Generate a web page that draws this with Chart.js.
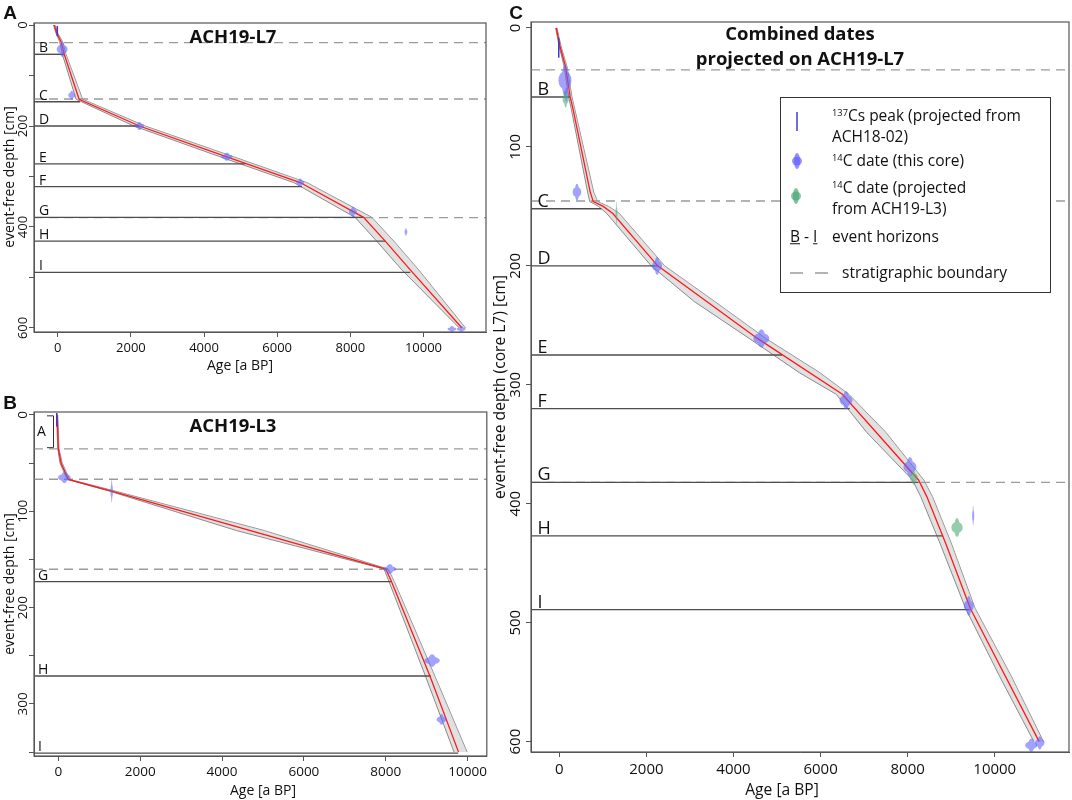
<!DOCTYPE html>
<html>
<head>
<meta charset="utf-8">
<title>Age-depth models ACH19-L7 / ACH19-L3</title>
<script src="https://cdn.jsdelivr.net/npm/chart.js@4.4.1/dist/chart.umd.min.js"></script>
<style>
  body { margin: 0; background: #fff; }
  #page { position: relative; width: 1072px; height: 800px; overflow: hidden; font-family: "Open Sans", sans-serif; color: #111; }
  canvas { position: absolute; }
  .lbl { position: absolute; white-space: nowrap; line-height: 1; }
  .lbl sup { font-size: 0.6em; vertical-align: 0.6em; line-height: 0; }
  #legend { position: absolute; left: 780px; top: 97px; width: 271px; height: 196px; border: 1.5px solid #333; box-sizing: border-box; background: #fff; }
</style>
</head>
<body>
<div id="page">
  <canvas id="chartA" width="490" height="380" style="left:0;top:0"></canvas>
  <canvas id="chartB" width="490" height="420" style="left:0;top:380px"></canvas>
  <canvas id="chartC" width="582" height="800" style="left:490px;top:0"></canvas>
  <div id="legend"></div>
  <svg width="1072" height="800" style="position:absolute;left:0;top:0;pointer-events:none">
    <line x1="797" y1="112" x2="797" y2="131" stroke="#4040d0" stroke-width="1.5"/>
    <ellipse cx="797" cy="161" rx="5" ry="4.5" fill="rgba(100,100,255,0.7)"/>
    <ellipse cx="797" cy="161" rx="3" ry="8" fill="rgba(100,100,255,0.7)"/>
    <ellipse cx="796" cy="196" rx="5" ry="4.5" fill="rgba(80,170,120,0.7)"/>
    <ellipse cx="796" cy="196" rx="3" ry="8" fill="rgba(80,170,120,0.7)"/>
    <line x1="790" y1="273" x2="803" y2="273" stroke="#9b9b9b" stroke-width="1.5"/>
    <line x1="815" y1="273" x2="828" y2="273" stroke="#9b9b9b" stroke-width="1.5"/>
  </svg>
</div>
<script>
// age axis (x) ticks shared by all panels
const ageTicks = [0, 2000, 4000, 6000, 8000, 10000];

// ---- Panel A: ACH19-L7
const aDepthTicks = [0, 100, 200, 300, 400, 500, 600];
const aDepthLabels = [0, 200, 400, 600];
const aModelDepth = [0, 16, 33, 59, 147, 200, 261, 312, 381, 428, 485, 600];
const aModelAge = [-100, -27, 90, 181, 583, 2233, 4624, 6629, 8361, 8955, 9639, 11053];
const aBandDepth = [0, 16, 33, 59, 147, 200, 261, 312, 381, 428, 485, 600];
const aBandYoung = [-115, -50, 50, 130, 500, 2080, 4440, 6450, 8130, 8720, 9410, 10980];
const aBandOld = [-80, 0, 130, 230, 680, 2390, 4810, 6810, 8590, 9190, 9870, 11150];
const aHorizons = ['B', 'C', 'D', 'E', 'F', 'G', 'H', 'I'];
const aHorizonDepth = [58, 152, 200, 275, 320, 381, 428, 490];
const aHorizonEnd = [181, 610, 2233, 5124, 6676, 8361, 8955, 9639];
const aBoundaries = [35, 146.5, 381.5];
const aC14Age = [120, 383, 2233, 4624, 6629, 8071, 9521, 10779, 11034];
const aC14Depth = [48, 139, 200, 261, 312, 370, 410, 602, 602];
const aC14AgeErr = [150, 95, 125, 160, 110, 110, 40, 120, 120];
const aC14DepthErr = [15, 9, 8, 8, 8, 10, 8, 6, 6];
const aCsAge = [-13];
const aCsDepth = [12];
const aCsDepthErr = [10];

// ---- Panel B: ACH19-L3
const bDepthTicks = [0, 50, 100, 150, 200, 250, 300, 350];
const bDepthLabels = [0, 100, 200, 300];
const bModelDepth = [0, 35, 50, 67, 79, 160, 173, 271, 350];
const bModelAge = [-30, 0, 66, 244, 1300, 8000, 8140, 9080, 9780];
const bBandDepth = [0, 35, 50, 67, 79, 120, 160, 173, 271, 350];
const bBandYoung = [-45, -15, 40, 215, 1240, 4350, 7960, 8080, 8970, 9670];
const bBandOld = [-15, 15, 95, 275, 1380, 5030, 8060, 8210, 9200, 9990];
const bHorizons = ['G', 'H', 'I'];
const bHorizonDepth = [173, 271, 351];
const bHorizonEnd = [8141, 9101, 9770];
const bBoundaries = [35.3, 66.8, 160.2];
const bC14Age = [147, 1304, 8100, 9133, 9363];
const bC14Depth = [65, 79, 160, 255, 316];
const bC14AgeErr = [155, 30, 160, 190, 120];
const bC14DepthErr = [6, 12, 5, 6.5, 5.5];
const bCsAge = [-39];
const bCsDepth = [5];
const bCsDepthErr = [7];

// ---- Panel C: combined dates projected on ACH19-L7
const cDepthTicks = [0, 100, 200, 300, 400, 500, 600];
const cDepthLabels = [0, 100, 200, 300, 400, 500, 600];
const cModelDepth = [0, 16, 33, 58, 69, 138, 146, 150, 156, 200, 261, 308, 380, 394, 433, 488, 600];
const cModelAge = [-70, 20, 146, 250, 320, 710, 780, 1010, 1230, 2260, 4550, 6500, 8250, 8440, 8870, 9440, 11020];
const cBandDepth = [0, 16, 33, 58, 69, 138, 146, 150, 156, 200, 230, 261, 290, 308, 340, 380, 394, 433, 488, 545, 600];
const cBandYoung = [-85, 0, 115, 215, 280, 650, 700, 900, 1090, 2110, 3100, 4360, 5520, 6360, 7060, 8110, 8300, 8740, 9330, 10110, 10900];
const cBandOld = [-55, 45, 180, 290, 360, 790, 880, 1130, 1380, 2420, 3570, 4740, 5990, 6650, 7500, 8370, 8570, 9000, 9550, 10380, 11120];
const cHorizons = ['B', 'C', 'D', 'E', 'F', 'G', 'H', 'I'];
const cHorizonDepth = [58, 152, 200, 275, 320, 382, 427, 489];
const cHorizonEnd = [250, 967, 2263, 5115, 6670, 8250, 8813, 9418];
const cBoundaries = [35.3, 145.5, 382];
const cC14Age = [130, 160, 405, 2246, 4640, 6584, 8053, 9504, 9403, 10838, 11034];
const cC14Depth = [44, 56, 138, 200, 261, 313, 369, 410, 486, 603, 601];
const cC14AgeErr = [150, 60, 100, 115, 185, 150, 150, 25, 115, 140, 110];
const cC14DepthErr = [13, 6, 7, 7.7, 7.7, 7.7, 8.4, 8.4, 8.4, 5.6, 5.6];
const cProjAge = [146, 1313, 8139, 9133];
const cProjDepth = [60, 156, 378, 420];
const cProjAgeErr = [70, 15, 90, 130];
const cProjDepthErr = [7, 10, 6, 8];
const cCsAge = [-13];
const cCsDepth = [17];
const cCsDepthErr = [8];

const BLUE = 'rgba(100,100,255,0.6)';
const GREEN = 'rgba(80,170,120,0.6)';

function drawBlobs(ctx, x, y, ages, depths, ageErr, depthErr, color) {
  ctx.fillStyle = color;
  ages.forEach((a, i) => {
    const cx = x.getPixelForValue(a), cy = y.getPixelForValue(depths[i]);
    const rx = Math.max(1, Math.abs(x.getPixelForValue(a + ageErr[i]) - cx));
    const ry = Math.max(1, Math.abs(y.getPixelForValue(depths[i] + depthErr[i]) - cy));
    ctx.beginPath();
    ctx.ellipse(cx, cy, rx, ry * 0.6, 0, 0, Math.PI * 2);
    ctx.closePath();
    ctx.moveTo(cx + rx * 0.5, cy);
    ctx.ellipse(cx, cy, rx * 0.5, ry, 0, 0, Math.PI * 2);
    ctx.closePath();
    ctx.fill('nonzero');
  });
}

function overlay(p) {
  return {
    id: 'overlay',
    afterDatasetsDraw(chart) {
      const {ctx, chartArea: a, scales: {x, y}} = chart;
      ctx.save();
      ctx.beginPath();
      ctx.rect(a.left, a.top, a.right - a.left, a.bottom - a.top);
      ctx.clip();
      drawBlobs(ctx, x, y, p.c14[0], p.c14[1], p.c14[2], p.c14[3], BLUE);
      if (p.proj) drawBlobs(ctx, x, y, p.proj[0], p.proj[1], p.proj[2], p.proj[3], GREEN);
      ctx.strokeStyle = '#3a3ad0';
      ctx.lineWidth = 1.5;
      p.cs[0].forEach((age, i) => {
        const px = x.getPixelForValue(age);
        ctx.beginPath();
        ctx.moveTo(px, y.getPixelForValue(p.cs[1][i] - p.cs[2][i]));
        ctx.lineTo(px, y.getPixelForValue(p.cs[1][i] + p.cs[2][i]));
        ctx.stroke();
      });
      ctx.restore();

      ctx.save();
      ctx.fillStyle = '#111';
      ctx.font = p.letterSize + 'px "Open Sans"';
      ctx.textBaseline = 'alphabetic';
      p.hLabels.forEach((t, i) => ctx.fillText(t, a.left + p.letterDx, y.getPixelForValue(p.hDepth[i]) - 2));
      if (p.bracket) {
        const [d0, d1, label] = p.bracket;
        const bx = a.left + 19.5, y0 = y.getPixelForValue(d0), y1 = y.getPixelForValue(d1);
        ctx.strokeStyle = '#333';
        ctx.lineWidth = 1;
        ctx.beginPath();
        ctx.moveTo(bx - 6.5, y0); ctx.lineTo(bx, y0); ctx.lineTo(bx, y1); ctx.lineTo(bx - 6.5, y1);
        ctx.stroke();
        ctx.textAlign = 'center';
        ctx.textBaseline = 'middle';
        ctx.fillText(label, a.left + 7.5, (y0 + y1) / 2);
      }
      ctx.strokeStyle = '#555';
      ctx.lineWidth = 1.2;
      ctx.strokeRect(a.left, a.top, a.right - a.left, a.bottom - a.top);

      ctx.font = p.tickSize + 'px "Open Sans"';
      ctx.textAlign = 'center';
      ctx.textBaseline = 'middle';
      p.yLabels.forEach(v => {
        ctx.save();
        ctx.translate(a.left - p.yLabelDx, y.getPixelForValue(v));
        ctx.rotate(-Math.PI / 2);
        ctx.fillText(String(v), 0, 0);
        ctx.restore();
      });
      ctx.restore();
    }
  };
}

function buildChart(id, p) {
  const pts = (ages, depths) => depths.map((d, i) => ({x: ages[i], y: d}));
  const datasets = [];
  datasets.push({data: pts(p.modelAge, p.modelDepth), borderColor: '#ff1a1a', borderWidth: 1.3, order: 0});
  p.hDepth.forEach((d, i) => datasets.push({data: [{x: p.xMin, y: d}, {x: p.hEnd[i], y: d}], borderColor: '#4d4d4d', borderWidth: 1.4, order: 1}));
  p.bounds.forEach(d => datasets.push({data: [{x: p.xMin, y: d}, {x: p.xMax, y: d}], borderColor: '#9b9b9b', borderWidth: 1.3, borderDash: [9, 6], order: 2}));
  datasets.push({data: pts(p.bandYoung, p.bandDepth), indexAxis: 'y', borderColor: '#8a8a8a', borderWidth: 1, fill: '+1', backgroundColor: 'rgba(200,200,200,0.55)', order: 3});
  datasets.push({data: pts(p.bandOld, p.bandDepth), indexAxis: 'y', borderColor: '#8a8a8a', borderWidth: 1, order: 3});
  datasets.forEach(ds => {
    ds.showLine = true;
    ds.pointRadius = 0;
    ds.tension = 0;
    if (ds.fill === undefined) ds.fill = false;
  });

  const gridOpts = {drawOnChartArea: false, drawTicks: true, tickLength: 5, color: '#555', lineWidth: 1};
  return new Chart(document.getElementById(id), {
    type: 'scatter',
    data: {datasets},
    options: {
      responsive: false,
      animation: false,
      events: [],
      layout: {padding: {top: p.padTop, right: p.padRight, left: 0, bottom: 0}},
      plugins: {legend: {display: false}, tooltip: {enabled: false}},
      scales: {
        x: {
          type: 'linear',
          position: 'bottom',
          bounds: 'data',
          min: p.xMin,
          max: p.xMax,
          afterBuildTicks: s => { s.ticks = ageTicks.map(v => ({value: v})); },
          afterFit: s => { s.height = p.xAxisH; },
          grid: gridOpts,
          border: {display: true, color: '#555', width: 1},
          ticks: {color: '#111', font: {family: 'Open Sans', size: p.tickSize}, padding: p.tickPad, maxRotation: 0, autoSkip: false, callback: v => String(v)}
        },
        y: {
          type: 'linear',
          position: 'left',
          reverse: true,
          bounds: 'data',
          min: p.yMin,
          max: p.yMax,
          afterBuildTicks: s => { s.ticks = p.yTicks.map(v => ({value: v})); },
          afterFit: s => { s.width = p.yAxisW; },
          grid: gridOpts,
          border: {display: true, color: '#555', width: 1},
          ticks: {color: 'rgba(0,0,0,0)', autoSkip: false, font: {size: p.tickSize}}
        }
      }
    },
    plugins: [overlay(p)]
  });
}

buildChart('chartA', {
  xMin: -650, xMax: 11710, yMin: -4, yMax: 608,
  yTicks: aDepthTicks, yLabels: aDepthLabels,
  modelAge: aModelAge, modelDepth: aModelDepth,
  bandDepth: aBandDepth, bandYoung: aBandYoung, bandOld: aBandOld,
  hLabels: aHorizons, hDepth: aHorizonDepth, hEnd: aHorizonEnd, bounds: aBoundaries,
  c14: [aC14Age, aC14Depth, aC14AgeErr, aC14DepthErr],
  cs: [aCsAge, aCsDepth, aCsDepthErr],
  padTop: 23, padRight: 4, xAxisH: 48, yAxisW: 34,
  tickSize: 13, tickPad: 3, yLabelDx: 10.5, letterSize: 14, letterDx: 5
});

buildChart('chartB', {
  xMin: -595, xMax: 10470, yMin: -3, yMax: 354,
  yTicks: bDepthTicks, yLabels: bDepthLabels,
  modelAge: bModelAge, modelDepth: bModelDepth,
  bandDepth: bBandDepth, bandYoung: bBandYoung, bandOld: bBandOld,
  hLabels: bHorizons, hDepth: bHorizonDepth, hEnd: bHorizonEnd, bounds: bBoundaries,
  c14: [bC14Age, bC14Depth, bC14AgeErr, bC14DepthErr],
  cs: [bCsAge, bCsDepth, bCsDepthErr],
  bracket: [1, 34, 'A'],
  padTop: 32, padRight: 3, xAxisH: 44, yAxisW: 34,
  tickSize: 13.5, tickPad: 3, yLabelDx: 11, letterSize: 14, letterDx: 4
});

buildChart('chartC', {
  xMin: -650, xMax: 11705, yMin: -5, yMax: 608.7,
  yTicks: cDepthTicks, yLabels: cDepthLabels,
  modelAge: cModelAge, modelDepth: cModelDepth,
  bandDepth: cBandDepth, bandYoung: cBandYoung, bandOld: cBandOld,
  hLabels: cHorizons, hDepth: cHorizonDepth, hEnd: cHorizonEnd, bounds: cBoundaries,
  c14: [cC14Age, cC14Depth, cC14AgeErr, cC14DepthErr],
  proj: [cProjAge, cProjDepth, cProjAgeErr, cProjDepthErr],
  cs: [cCsAge, cCsDepth, cCsDepthErr],
  padTop: 22, padRight: 3, xAxisH: 48, yAxisW: 41,
  tickSize: 15, tickPad: 4, yLabelDx: 15, letterSize: 18, letterDx: 6.5
});

// static texts: [html, centre x, centre y, size, bold, align, rotated, family]
const texts = [
  ['A', 10, 12, 19, true, 'c', false, 'Liberation Sans'],
  ['B', 10, 402, 19, true, 'c', false, 'Liberation Sans'],
  ['C', 516, 12, 19, true, 'c', false, 'Liberation Sans'],
  ['ACH19-L7', 233, 36, 18.5, true, 'c', false],
  ['ACH19-L3', 233, 425, 18.5, true, 'c', false],
  ['Combined dates', 800, 33, 18.5, true, 'c', false],
  ['projected on ACH19-L7', 800, 58, 18.5, true, 'c', false],
  ['Age [a BP]', 240, 365, 14, false, 'c', false],
  ['Age [a BP]', 263, 790, 14, false, 'c', false],
  ['Age [a BP]', 782, 790, 15.6, false, 'c', false],
  ['event-free depth [cm]', 9, 177, 14, false, 'c', true],
  ['event-free depth [cm]', 9, 584, 14, false, 'c', true],
  ['event-free depth (core L7) [cm]', 500, 387, 15.6, false, 'c', true],
  ['<sup>137</sup>Cs peak (projected from', 832, 116, 15.5, false, 'l', false],
  ['ACH18-02)', 832, 137, 15.5, false, 'l', false],
  ['<sup>14</sup>C date (this core)', 832, 161, 15.5, false, 'l', false],
  ['<sup>14</sup>C date (projected', 832, 188, 15.5, false, 'l', false],
  ['from ACH19-L3)', 832, 209, 15.5, false, 'l', false],
  ['<u>B</u> - <u>I</u>', 790, 237, 15.5, false, 'l', false],
  ['event horizons', 832, 237, 15.5, false, 'l', false],
  ['stratigraphic boundary', 842, 273, 15.5, false, 'l', false]
];
const page = document.getElementById('page');
texts.forEach(([html, x, y, size, bold, align, rot, family]) => {
  const el = document.createElement('div');
  el.className = 'lbl';
  el.innerHTML = html;
  el.style.left = x + 'px';
  el.style.top = y + 'px';
  el.style.fontSize = size + 'px';
  el.style.fontWeight = bold ? '700' : '400';
  if (family) el.style.fontFamily = '"' + family + '", sans-serif';
  const tx = align === 'c' ? 'translate(-50%,-50%)' : 'translate(0,-50%)';
  el.style.transform = rot ? tx + ' rotate(-90deg)' : tx;
  page.appendChild(el);
});
</script>
</body>
</html>
